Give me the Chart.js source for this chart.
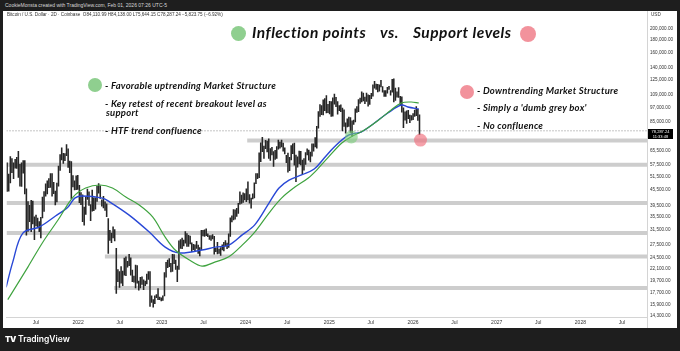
<!DOCTYPE html>
<html><head><meta charset="utf-8">
<script src="https://cdn.jsdelivr.net/npm/chart.js@4.4.1/dist/chart.umd.min.js"></script>
<style>
html,body{margin:0;padding:0}
body{width:680px;height:351px;background:#1e1e1e;position:relative;overflow:hidden;font-family:"Liberation Sans",Arial,sans-serif}
#panel{position:absolute;left:3px;top:11px;width:674px;height:317px;background:#fff}
#c{position:absolute;left:0;top:0}
.t{position:absolute;white-space:nowrap;line-height:1}
#hdr{left:5px;top:3px;font-size:5px;color:#d8d8d8}
#leg{left:7px;top:13px;font-size:4.6px;color:#333}
.ttl{font-family:Lato;font-style:italic;font-weight:bold;font-size:15.5px;letter-spacing:0.5px;color:#111}
.ann{font-family:Lato;font-style:italic;font-weight:bold;font-size:9.5px;letter-spacing:0.25px;color:#111}
.dot{position:absolute;border-radius:50%}
#usd{left:651px;top:13px;font-size:4.6px;color:#333}
#plbl{position:absolute;left:648px;top:129px;width:25px;height:10px;background:#000;color:#fff;font-size:4px;line-height:5px;text-align:center}
#vline{position:absolute;left:647px;top:317px;width:1px;height:11px;background:#d4d4d4}
#logo{left:5px;top:335px;font-family:Inter;font-weight:900;font-size:8px;color:#fff;letter-spacing:-0.5px}
#tv{left:18px;top:334.5px;font-family:Inter;font-weight:600;font-size:8.5px;color:#fff}
</style></head>
<body>
<div class="t" id="hdr">CookieMonsta created with TradingView.com, Feb 01, 2026 07:26 UTC-5</div>
<div id="panel"></div>
<canvas id="c" width="680" height="351"></canvas>
<div class="t" id="leg">Bitcoin / U.S. Dollar · 2D · Coinbase &nbsp;O84,110.99 H84,138.00 L75,644.15 C78,287.24 −5,823.75 (−6.92%)</div>
<div class="t" id="usd">USD</div>
<div id="plbl">78,287.24<br>11:33:48</div>
<div id="vline"></div>

<div class="dot" style="left:230.5px;top:25.5px;width:15px;height:15px;background:#8fcf8f"></div>
<div class="t ttl" style="left:252px;top:25px">Inflection points</div>
<div class="t ttl" style="left:380px;top:25px">vs.</div>
<div class="t ttl" style="left:413px;top:25px">Support levels</div>
<div class="dot" style="left:520px;top:25.5px;width:16px;height:16px;background:#f2929c"></div>

<div class="dot" style="left:88px;top:78px;width:14px;height:14px;background:#8fcf8f"></div>
<div class="t ann" style="left:105px;top:80.5px">- Favorable uptrending Market Structure</div>
<div class="t ann" style="left:105px;top:99px">- Key retest of recent breakout level as</div>
<div class="t ann" style="left:106px;top:108px">support</div>
<div class="t ann" style="left:105px;top:125.5px">- HTF trend confluence</div>

<div class="dot" style="left:460px;top:85px;width:14px;height:14px;background:#f2929c"></div>
<div class="t ann" style="left:477px;top:86px">- Downtrending Market Structure</div>
<div class="t ann" style="left:477px;top:103px">- Simply a 'dumb grey box'</div>
<div class="t ann" style="left:477px;top:121px">- No confluence</div>

<div class="t" id="logo">TV</div>
<div class="t" id="tv">TradingView</div>

<script>
// ---- weekly price ranges [low, high] in thousands USD, weeks starting Mon 2021-02-22 ----
const weekStart = [2021, 2, 22];
const range2021 = [
 [44.9,58.3],[45.0,52.6],[48.5,61.8],[53.3,60.6],[50.4,58.4],[55.5,60.2],[55.4,61.3],[51.0,64.9],[47.1,57.5],[47.0,58.4],
 [53.0,59.6],[43.9,59.6],[30.0,46.0],[31.1,40.9],[34.0,39.5],[31.0,41.3],[33.3,41.1],[28.8,35.5],[32.7,36.1],[32.1,35.1],
 [31.0,34.0],[29.3,35.4],[35.2,42.6],[37.3,44.8],[43.0,48.1],[43.9,49.4],[46.4,50.5],[46.6,52.9],[43.0,52.9],[44.0,48.8],
 [39.6,45.0],[40.7,48.4],[47.1,56.6],[54.4,62.9],[59.9,67.0],[58.0,63.7],[59.5,63.5],[62.3,69.0],[56.0,66.3],[53.3,59.3],
 [42.0,59.0],[46.8,51.9],[45.5,49.5],[45.6,51.8],[45.7,52.0]];
const range2022 = [
 [40.5,47.5],[39.7,44.4],[34.0,43.5],[32.9,38.9],[36.3,42.6],[41.7,45.8],[39.5,44.7],[34.3,39.8],[37.4,45.4],[37.6,42.3],
 [38.1,42.3],[40.9,47.0],[44.2,48.2],[42.1,47.2],[39.2,41.5],[38.6,42.9],[37.7,40.8],[35.6,40.0],[25.4,35.0],[28.6,31.4],
 [28.0,30.6],[29.3,32.4],[28.5,31.6],[17.6,26.6],[19.6,21.9],[18.6,21.5],[19.3,22.5],[18.9,21.6],[20.8,24.3],[20.7,24.6],
 [22.4,23.6],[22.7,25.2],[20.8,24.4],[19.6,21.8],[19.5,20.6],[18.5,22.8],[19.3,22.7],[18.1,19.7],[18.5,20.4],[19.1,20.5],
 [18.2,19.9],[18.9,19.7],[19.2,21.0],[20.0,21.5],[15.6,21.5],[16.2,17.2],[15.5,16.6],[16.0,17.2],[16.9,17.4],[16.6,18.4],
 [16.6,17.0],[16.4,16.9]];
const range2023 = [
 [16.5,17.2],[17.2,21.3],[20.4,23.4],[22.3,23.9],[22.5,24.2],[21.4,23.2],[21.5,25.2],[23.1,25.1],[21.9,23.9],[19.6,22.6],
 [21.9,28.5],[26.6,28.8],[26.5,29.2],[27.2,28.7],[27.9,31.0],[27.1,30.5],[27.1,30.0],[27.7,29.8],[25.8,28.0],[26.3,27.6],
 [26.0,27.5],[26.6,28.4],[25.4,27.4],[24.8,26.8],[26.3,31.4],[29.8,31.4],[29.7,31.5],[29.9,31.8],[29.6,30.4],[28.9,29.9],
 [28.6,29.9],[29.0,30.2],[25.2,29.7],[25.8,26.6],[25.3,28.1],[25.4,26.4],[24.9,26.8],[26.2,27.5],[26.0,28.1],[27.2,28.6],
 [26.5,27.9],[26.8,30.4],[29.7,35.2],[33.9,35.9],[34.5,38.0],[34.8,37.9],[35.7,38.4],[36.7,40.2],[39.9,44.7],[40.2,43.4],
 [40.6,44.3],[41.5,44.0]];
const range2024 = [
 [40.8,45.9],[41.5,49.0],[40.3,43.6],[38.5,42.2],[41.9,43.9],[42.3,48.6],[48.2,52.8],[50.5,52.9],[50.9,64.0],[59.0,70.1],
 [64.6,73.8],[60.8,68.1],[66.5,71.7],[64.5,71.3],[60.7,72.8],[59.6,66.5],[62.8,67.2],[56.5,64.7],[60.2,65.5],[60.8,67.7],
 [66.1,71.9],[66.7,70.6],[67.6,71.9],[65.0,70.0],[63.3,66.9],[58.4,62.5],[53.5,63.8],[54.3,61.3],[59.9,68.4],[63.5,69.4],
 [57.1,70.0],[49.1,62.7],[56.1,61.7],[57.8,65.0],[57.2,64.9],[52.5,59.8],[54.6,60.6],[57.5,64.1],[62.7,66.4],[59.8,65.6],
 [58.9,64.4],[62.0,69.5],[65.0,69.5],[67.5,73.6],[66.8,81.5],[80.2,93.5],[89.4,99.6],[90.8,98.7],[90.5,104.0],[94.2,105.3],
 [92.2,108.3],[92.5,99.9],[91.5,102.7]];
const range2025 = [
 [89.3,102.5],[89.5,106.0],[100.1,109.6],[97.8,106.5],[91.2,102.4],[94.1,98.8],[93.4,99.5],[78.2,96.5],[81.5,95.0],[76.6,84.3],
 [81.2,87.5],[81.6,88.8],[77.1,88.5],[74.4,85.9],[83.0,86.4],[85.0,95.8],[92.8,97.9],[93.4,104.3],[100.7,105.8],[102.1,112.0],
 [103.1,110.7],[100.4,106.8],[102.6,110.6],[98.2,108.9],[99.7,108.5],[105.1,110.5],[107.5,119.5],[115.7,123.2],[114.5,120.2],[112.0,120.0],
 [112.6,119.3],[117.2,124.5],[111.6,117.5],[107.3,113.3],[107.3,113.4],[110.6,116.7],[114.6,117.9],[108.6,113.4],[111.6,125.6],[102.0,126.2],
 [103.5,116.0],[106.7,112.0],[106.3,116.4],[98.9,107.5],[93.0,107.0],[80.6,96.6],[86.3,93.1],[83.8,94.1],[87.6,94.6],[84.4,90.4],
 [86.4,90.0],[86.8,91.8]];
const range2026 = [[89.4,94.8],[90.0,97.9],[86.2,95.5],[75.6,90.6]];

// ---- moving averages (fractional year, thousands USD) ----
const maBlueYears = [2021.14,2021.22,2021.34,2021.54,2021.73,2021.88,2021.96,2022.05,2022.29,2022.38,2022.61,2022.85,2023.04,2023.21,2023.48,2023.64,2023.80,2023.96,2024.11,2024.28,2024.40,2024.52,2024.67,2024.82,2024.94,2025.06,2025.23,2025.38,2025.54,2025.70,2025.86,2025.94,2026.07];
const maBlue = [18.6,23.5,30.6,32.4,35.8,38.9,42.2,43.0,42.2,40.7,36.1,30.9,26.9,25.5,26.2,26.9,27.4,30.1,33.0,40.3,46.3,49.8,52.2,55.1,61.0,67.5,75.3,77.4,84.1,92.2,99.2,97.4,95.6];
const maGreenYears = [2021.16,2021.40,2021.58,2021.76,2021.94,2022.09,2022.26,2022.41,2022.57,2022.73,2022.89,2023.04,2023.16,2023.33,2023.48,2023.64,2023.80,2023.96,2024.11,2024.28,2024.43,2024.59,2024.75,2024.85,2024.99,2025.15,2025.26,2025.42,2025.59,2025.74,2025.86,2025.98,2026.07];
const maGreen = [16.6,22.4,28.2,34.5,42.6,46.3,47.6,46.3,42.6,39.6,35.5,29.5,26.2,23.9,22.6,23.5,24.6,27.4,30.9,36.8,42.2,46.7,50.8,54.6,61.5,70.0,74.0,78.9,86.5,94.8,101.1,102.0,101.1];

// ---- support boxes (thousands USD) and where each starts (null = from left edge) ----
const supportLevels = [71.6, 57.3, 40.3, 30.6, 24.7, 18.5];
const supportStarts = [2024.02, null, null, null, 2022.32, 2022.43];
const lastPrice = 78.28724;
const inflectionPoint = {x: 2025.264, y: 74.0};
const supportPoint = {x: 2026.09, y: 71.9};

// ---- axes ----
const yTicks = [14.3,15.9,17.7,19.7,22.1,24.5,27.5,31.5,35.5,39.5,45.5,51.5,57.5,65.5,85,97,109,125,140,160,180,200];
const xYears = [2021,2022,2023,2024,2025,2026,2027,2028];
const xMin = 2021.1446, xMax = 2028.7958;
const yMin = 14.16, yMax = 235.3;

function msToYear(ms){const y=new Date(ms).getUTCFullYear();return y+(ms-Date.UTC(y,0,1))/(Date.UTC(y+1,0,1)-Date.UTC(y,0,1));}
const xTicks = [];
xYears.forEach(y=>{ if(y>2021) xTicks.push({v:y,l:String(y)}); xTicks.push({v:msToYear(Date.UTC(y,6,1)),l:'Jul'}); });

const ranges = [].concat(range2021,range2022,range2023,range2024,range2025,range2026);
const t0 = Date.UTC(weekStart[0],weekStart[1]-1,weekStart[2]);
const candleData = ranges.map((r,i)=>({x: msToYear(t0+(7*i+3.5)*864e5), y: r}));

const bandSets = supportLevels.map((v,i)=>({
  type:'line', data:[{x: supportStarts[i]===null?xMin:supportStarts[i], y:v},{x:xMax,y:v}],
  borderColor:'#cdcdcd', borderWidth:4, pointRadius:0, order:4, borderCapStyle:'butt'
}));

function fmt(v){const n=Math.round(v*1000);return n.toString().replace(/\B(?=(\d{3})+(?!\d))/g,',')+'.00';}

new Chart(document.getElementById('c'), {
  type:'bar',
  data:{datasets:[
    {type:'scatter', data:[inflectionPoint], pointRadius:6.5, pointBackgroundColor:'rgba(120,205,120,0.6)', pointBorderWidth:0, order:0},
    {type:'scatter', data:[supportPoint], pointRadius:6.5, pointBackgroundColor:'rgba(240,110,125,0.65)', pointBorderWidth:0, order:0},
    {type:'line', data:maGreenYears.map((x,i)=>({x,y:maGreen[i]})), borderColor:'#3fa33f', borderWidth:1.2, pointRadius:0, tension:0.35, order:1},
    {type:'line', data:maBlueYears.map((x,i)=>({x,y:maBlue[i]})), borderColor:'#2948d6', borderWidth:1.4, pointRadius:0, tension:0.35, order:1},
    {type:'bar', data:candleData, backgroundColor:'#262626', borderWidth:0, barThickness:0.9, order:2},
    {type:'line', data:[{x:xMin,y:lastPrice},{x:xMax,y:lastPrice}], borderColor:'#8a8a8a', borderWidth:1, borderDash:[1,2], pointRadius:0, order:3},
    ...bandSets
  ]},
  options:{
    responsive:false, animation:false, devicePixelRatio:1,
    layout:{padding:{left:3,top:11,right:3,bottom:23}},
    plugins:{legend:{display:false},tooltip:{enabled:false}},
    scales:{
      x:{type:'linear', min:xMin, max:xMax, offset:false,
         grid:{display:false, drawTicks:false}, border:{display:true,color:'#d4d4d4'},
         afterBuildTicks:s=>{s.ticks=xTicks.map(t=>({value:t.v}));},
         afterFit:s=>{s.height=11;},
         ticks:{autoSkip:false, maxRotation:0, padding:3, color:'#333', font:{size:5,family:'Liberation Sans'},
           callback:(v)=>{const t=xTicks.find(k=>Math.abs(k.v-v)<1e-6);return t?t.l:'';}}},
      y:{type:'logarithmic', position:'right', min:yMin, max:yMax,
         grid:{display:false, drawTicks:false}, border:{display:true,color:'#d4d4d4'},
         afterBuildTicks:s=>{s.ticks=yTicks.map(v=>({value:v}));},
         afterFit:s=>{s.width=30;},
         ticks:{autoSkip:false, padding:3, color:'#333', font:{size:4.6,family:'Liberation Sans'},
           callback:(v)=>fmt(v)}}
    }
  }
});
</script>
</body></html>
